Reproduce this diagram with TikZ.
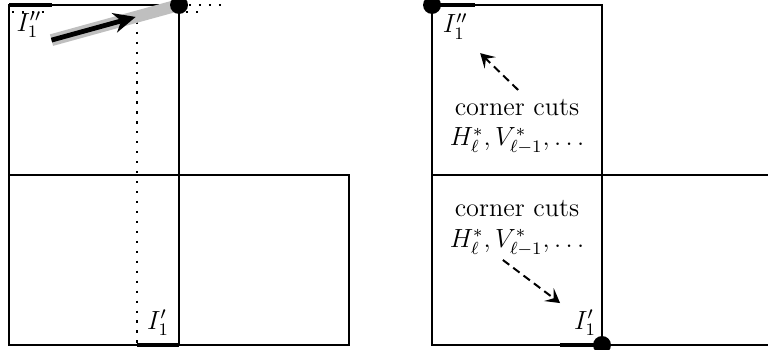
\documentclass[tikz,border=0pt]{standalone}
\usepackage{amsmath,amssymb}
\usetikzlibrary{arrows.meta,calc}

\begin{document}
\begin{tikzpicture}[line width=1pt,
  seg/.style={line width=2.4pt},
  endpt/.style={circle,fill,inner sep=0pt,minimum size=9pt},
  dots/.style={dash pattern=on 1.1pt off 3.9pt},
  lbl/.style={font=\large,scale=1.1,transform shape},
  cutarrow/.style={dash pattern=on 4pt off 2.5pt,-{Stealth[length=7pt,width=8pt,inset=3pt]}}]
\useasboundingbox (-0.159,-0.088) rectangle (13.394,6.088);
% left: cells before the move
\draw (0,3) -- (6,3) -- (6,0) -- (0,0) -- (0,6) -- (3,6) -- (3,0);
\draw[dots] (0.05,5.88) -- (0.7,5.88);
\draw[dots] (2.25,5.88) -- (3.45,5.88);
\draw[dots] (3,6) -- (3.8,6);
\draw[dots] (2.25,5.88) -- (2.25,0);
\draw[seg] (0,6) -- (0.75,6);
\draw[seg] (2.25,0) -- (3,0);
\coordinate (g0) at (0.75,5.38);
\coordinate (g1) at (3,6);
\draw[line width=6pt,gray!50] (g0) -- (g1);
\draw[line width=2.4pt,-{Stealth[length=11pt,width=10pt,inset=3.5pt]}] (g0) -- ($(g0)!0.66!(g1)$);
\node[endpt] (p1) at (g1) {};
\node[lbl] (i1pp) at (0.35,5.65) {$I_1''$};
\node[lbl] (i1p) at (2.63,0.39) {$I_1'$};
% right: cells after the move
\begin{scope}[xshift=7.465cm]
\draw (0,3) -- (6,3) -- (6,0) -- (0,0) -- (0,6) -- (3,6) -- (3,0);
\draw[seg] (0,6) -- (0.75,6);
\draw[seg] (2.25,0) -- (3,0);
\node[endpt] (q1) at (0,6) {};
\node[endpt] (q2) at (3,0) {};
\node[lbl] (j1pp) at (0.41,5.62) {$I_1''$};
\node[lbl] (j1p) at (2.7,0.39) {$I_1'$};
\node[lbl,align=center] (cutA) at (1.5,3.85) {corner cuts\\$H_\ell^*,V_{\ell-1}^*,\ldots$};
\node[lbl,align=center] (cutB) at (1.5,2.06) {corner cuts\\$H_\ell^*,V_{\ell-1}^*,\ldots$};
\coordinate (a0) at (1.52,4.5);
\coordinate (a1) at (0.85,5.15);
\coordinate (b0) at (1.25,1.5);
\coordinate (b1) at (2.26,0.74);
\draw[cutarrow] (a0) -- (a1);
\draw[cutarrow] (b0) -- (b1);
\end{scope}
\end{tikzpicture}
\end{document}
